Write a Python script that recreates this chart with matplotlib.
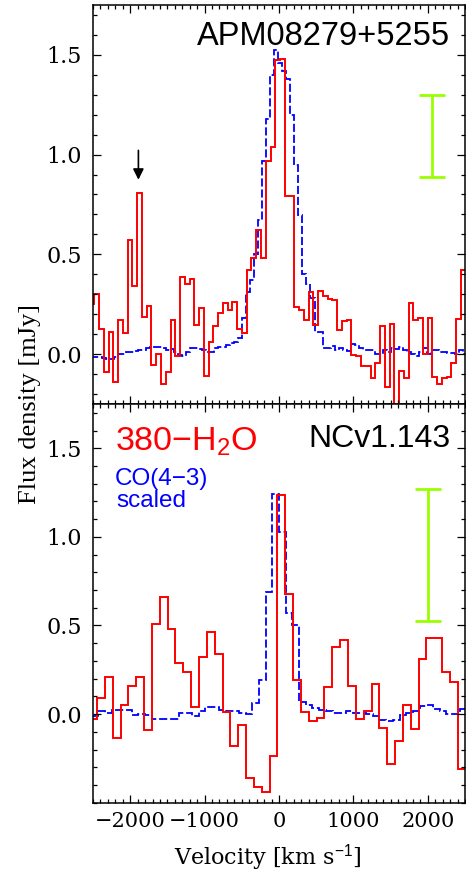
import numpy as np
import matplotlib
matplotlib.use('Agg')
import matplotlib.pyplot as plt
from matplotlib.ticker import MultipleLocator, FormatStrFormatter

# ── DATA ──────────────────────────────────────────────────────────────────────
# top panel: APM08279+5255, red = 380-H2O, blue = CO(4-3) scaled
top_red_start = -2546      # left edge of first channel [km/s]
top_red_width = 64
top_red = [0.25, 0.30, 0.128, -0.088, 0.11, -0.14, 0.173, 0.107, 0.57, 0.34,
           0.81, 0.187, 0.242, -0.055, 0.0, -0.152, -0.092, 0.17, -0.008, 0.387,
           0.35, 0.375, 0.145, 0.23, -0.108, 0.062, 0.14, 0.207, 0.257, 0.22,
           0.26, 0.128, 0.107, 0.423, 0.48, 0.62, 0.48, 0.97, 1.04, 1.475,
           1.48, 0.79, 0.79, 0.237, 0.223, 0.173, 0.31, 0.145, 0.317, 0.29,
           0.275, 0.27, 0.12, 0.165, 0.173, -0.005, -0.01, -0.06, -0.06, -0.12,
           -0.043, 0.14, -0.163, 0.153, -0.40, -0.083, -0.12, 0.257, 0.17, 0.182,
           0.0, 0.182, -0.113, -0.15, -0.12, -0.113, -0.043, 0.178, 0.42, 0.395]

top_blue_start = -2547
top_blue_width = 54
top_blue = [-0.013, -0.013, -0.013, -0.02, -0.025, -0.025, -0.015, 0.0, 0.0, 0.01,
            0.01, 0.015, 0.02, 0.02, 0.03, 0.035, 0.035, 0.035, 0.03, 0.02,
            0.025, 0.01, -0.005, -0.01, 0.01, 0.03, 0.03, 0.025, 0.02, 0.01,
            0.01, 0.03, 0.035, 0.035, 0.045, 0.055, 0.06, 0.08, 0.18, 0.31,
            0.37, 0.50, 0.67, 0.97, 1.18, 1.40, 1.525, 1.46, 1.42, 1.38,
            1.20, 0.95, 0.695, 0.40, 0.35, 0.28, 0.11, 0.11, 0.03, 0.03,
            0.04, 0.02, 0.03, 0.02, 0.017, 0.05, 0.045, 0.033, 0.02, 0.02,
            0.02, 0.0, 0.0, 0.02, 0.01, 0.033, 0.028, 0.037, 0.023, 0.01,
            0.0, -0.01, 0.01, 0.033, 0.0, 0.02, 0.02, 0.01, 0.01, 0.005,
            0.005, 0.0, 0.023, 0.0]

# bottom panel: NCv1.143
bot_red_start = -2551
bot_red_width = 105.4
bot_red = [-0.03, 0.09, 0.21, -0.136, 0.05, 0.16, 0.21, -0.09, 0.51, 0.66,
           0.48, 0.29, 0.24, 0.04, 0.32, 0.465, 0.34, 0.01, -0.18, -0.064,
           -0.36, -0.41, -0.44, -0.235, 1.235, 0.68, 0.19, 0.01, -0.04, -0.02,
           0.15, 0.38, 0.42, 0.16, -0.03, 0.015, 0.17, -0.08, -0.28, -0.15,
           0.05, -0.083, 0.31, 0.43, 0.43, 0.24, 0.18, -0.31]

bot_blue_start = -2520
bot_blue_width = 90
bot_blue = [-0.013, 0.015, 0.005, 0.025, 0.025, 0.025, -0.004, 0.0, -0.004, -0.03,
            -0.03, -0.028, -0.028, 0.005, 0.005, -0.013, 0.015, 0.038, 0.038, 0.025,
            0.02, 0.015, 0.005, 0.0, 0.06, 0.19, 0.69, 1.243, 1.03, 0.57,
            0.505, 0.07, 0.05, 0.035, 0.025, 0.015, 0.005, 0.005, 0.02, 0.005,
            0.005, 0.002, -0.013, -0.035, -0.04, -0.035, -0.004, 0.005, 0.02, 0.043,
            0.05, 0.028, 0.02, 0.0, 0.0, 0.03]

# error bars (typical 1-sigma channel noise)
err_v = [2050, 2000]
err_y = [1.093, 0.899]
err_dy = [0.207, 0.372]

arrow_v = -1890
arrow_y = [1.035, 0.86]

names = ['APM08279+5255', 'NCv1.143']
ylims = [(-0.25, 1.75), (-0.5, 1.75)]


def edges(start, width, vals):
    return start + width * np.arange(len(vals) + 1)


RED = '#ff0000'
BLUE = '#0000ff'
GREEN = '#99ff00'

plt.rcParams['mathtext.fontset'] = 'custom'
plt.rcParams['mathtext.rm'] = 'Liberation Sans'

fig = plt.figure(figsize=(4.66, 8.74), dpi=100)
ax1 = fig.add_axes([0.1996, 0.5378, 0.7983, 0.4565])
ax2 = fig.add_axes([0.1996, 0.0816, 0.7983, 0.4562])

series = [(top_red_start, top_red_width, top_red, top_blue_start, top_blue_width, top_blue),
          (bot_red_start, bot_red_width, bot_red, bot_blue_start, bot_blue_width, bot_blue)]

for i, ax in enumerate([ax1, ax2]):
    rs, rw, rv, bs, bw, bv = series[i]
    ax.stairs(bv, edges(bs, bw, bv), baseline=None, color=BLUE, lw=1.3,
              linestyle=(0, (4.5, 1.6)))
    ax.stairs(rv, edges(rs, rw, rv), baseline=None, color=RED, lw=1.4)
    ax.errorbar(err_v[i], err_y[i], yerr=err_dy[i], color=GREEN, lw=2.0,
                capsize=9.5, capthick=2.0, fmt='none')

    ax.set_xlim(-2500, 2500)
    ax.set_ylim(*ylims[i])
    ax.xaxis.set_major_locator(MultipleLocator(1000))
    ax.xaxis.set_minor_locator(MultipleLocator(100))
    ax.set_yticks([0.0, 0.5, 1.0, 1.5])
    ax.yaxis.set_minor_locator(MultipleLocator(0.1))
    ax.yaxis.set_major_formatter(FormatStrFormatter('%.1f'))
    ax.tick_params(which='both', direction='in', top=True, right=True, width=0.9)
    ax.tick_params(which='major', length=6.0)
    ax.tick_params(which='minor', length=3.0)
    ax.tick_params(axis='y', pad=8)
    ax.tick_params(axis='x', pad=7)
    for lab in ax.get_yticklabels():
        lab.set_fontfamily('DejaVu Serif')
        lab.set_fontsize(16)
    for lab in ax.get_xticklabels():
        lab.set_fontfamily('DejaVu Serif')
        lab.set_fontsize(15)
    for sp in ax.spines.values():
        sp.set_linewidth(1.1)

    ax.text(0.96, 0.9 if i == 0 else 0.892, names[i], transform=ax.transAxes,
            ha='right', va='baseline', fontsize=23.5 if i == 0 else 23,
            family='Liberation Sans')

ax1.tick_params(labelbottom=False)

ax1.annotate('', xy=(arrow_v, arrow_y[1]), xytext=(arrow_v, arrow_y[0]),
             arrowprops=dict(arrowstyle='-|>', color='k', lw=1.2, mutation_scale=16))

ax2.text(0.059, 0.885, '380\u2212H$_2$O', transform=ax2.transAxes, color=RED,
         ha='left', va='baseline', fontsize=24.5, family='Liberation Sans')
ax2.text(0.059, 0.797, 'CO(4\u22123)', transform=ax2.transAxes, color=BLUE,
         ha='left', va='baseline', fontsize=17.5, family='Liberation Sans')
ax2.text(0.062, 0.741, 'scaled', transform=ax2.transAxes, color=BLUE,
         ha='left', va='baseline', fontsize=17.5, family='Liberation Sans')

ax2.set_xlabel('Velocity [km s$^{-1}$]', fontsize=16, family='DejaVu Serif')
ax2.xaxis.set_label_coords(0.47, -0.1)
fig.text(0.064, 0.538, 'Flux density [mJy]', rotation=90, ha='center', va='center',
         fontsize=19, family='Liberation Serif')

fig.savefig('out.png', dpi=100)
